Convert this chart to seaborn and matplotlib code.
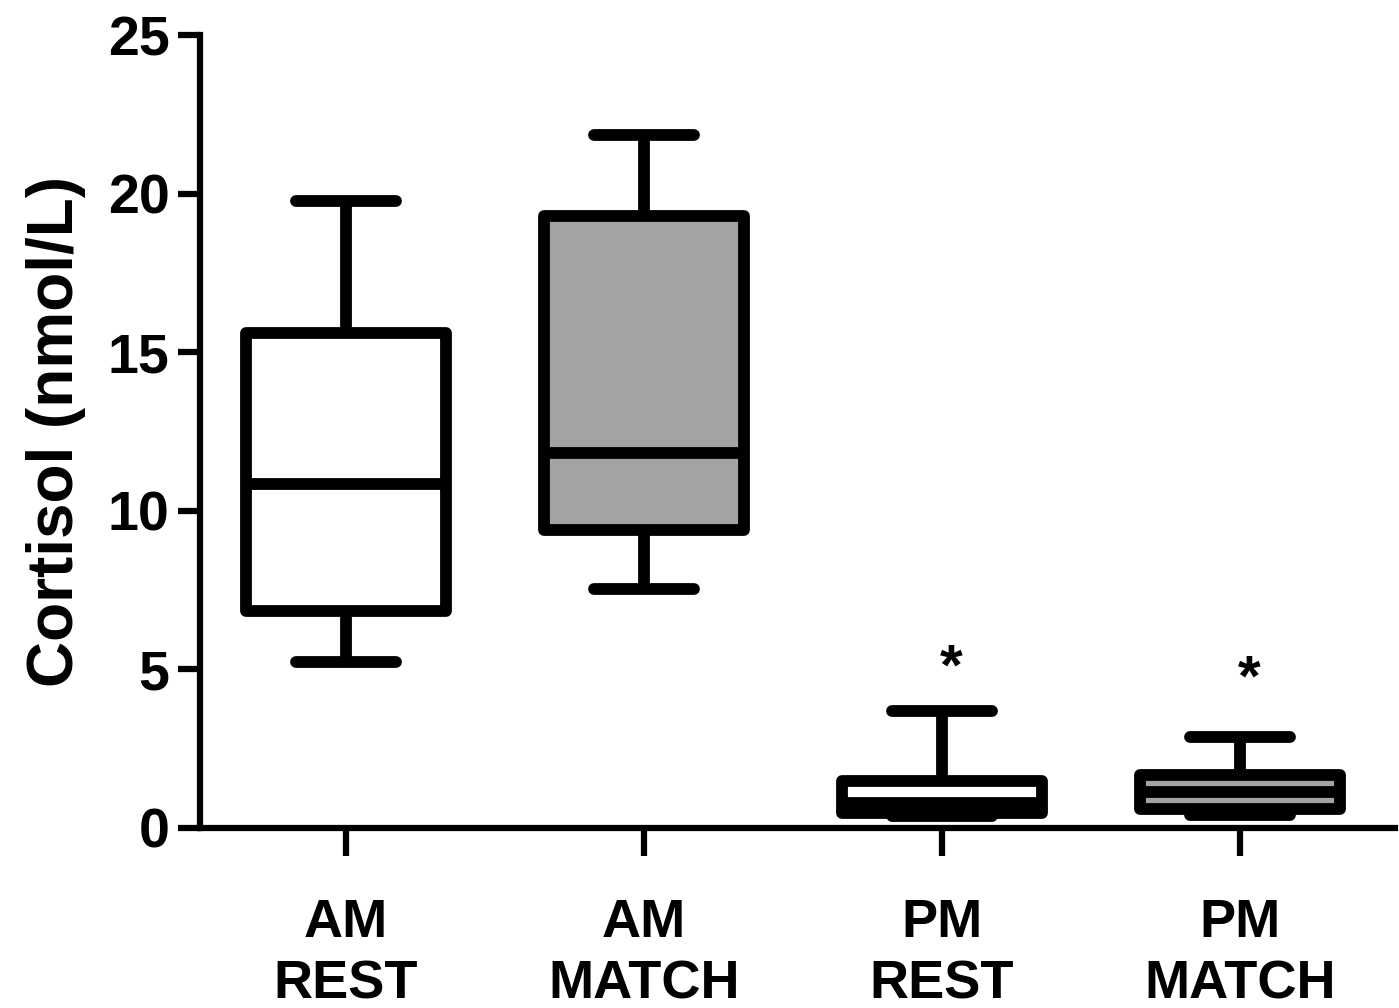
import matplotlib
matplotlib.use("Agg")
import matplotlib.pyplot as plt
import seaborn as sns
import pandas as pd

# five-number summaries (min, Q1, median, Q3, max)
groups = ["AM\nREST", "AM\nMATCH", "PM\nREST", "PM\nMATCH"]
am_rest = [5.23, 6.84, 10.85, 15.6, 19.77]
am_match = [7.53, 9.39, 11.82, 19.29, 21.85]
pm_rest = [0.35, 0.45, 0.77, 1.47, 3.69]
pm_match = [0.4, 0.58, 1.12, 1.65, 2.87]
fills = ["white", "#a3a3a3", "white", "#a3a3a3"]
star_y = [None, None, 5.0, 4.65]
y_ticks = [0, 5, 10, 15, 20, 25]

rows = []
for g, vals in zip(groups, [am_rest, am_match, pm_rest, pm_match]):
    for v in vals:
        rows.append({"group": g, "cortisol": v})
df = pd.DataFrame(rows)

sns.set_style("ticks")
plt.rcParams["font.family"] = ["Liberation Sans", "DejaVu Sans"]
plt.rcParams["font.weight"] = "bold"
plt.rcParams["text.color"] = "black"
plt.rcParams["axes.edgecolor"] = "black"
plt.rcParams["axes.labelcolor"] = "black"
plt.rcParams["xtick.color"] = "black"
plt.rcParams["ytick.color"] = "black"

fig = plt.figure(figsize=(13.99, 10.08), dpi=100)
ax = fig.add_axes([0.143, 0.179, 0.854, 0.786])

lw = 8.5
sns.boxplot(data=df, x="group", y="cortisol", hue="group", palette=fills,
            order=groups, hue_order=groups, legend=False, whis=(0, 100),
            width=0.67, linecolor="black", linewidth=lw, ax=ax,
            boxprops=dict(joinstyle="round"),
            whiskerprops=dict(solid_capstyle="butt"),
            capprops=dict(solid_capstyle="round"),
            medianprops=dict(solid_capstyle="butt"))

# significance marks
for i, s in enumerate(star_y):
    if s is not None:
        ax.text(i + 0.03, s, "*", ha="center", va="center", fontsize=42,
                fontweight="bold")

ax.set_ylim(0, 25)
ax.set_xlim(-0.49, 3.52)
ax.set_yticks(y_ticks)
ax.set_ylabel("Cortisol (nmol/L)", fontsize=46, fontweight="bold", labelpad=16)
ax.set_xlabel("")

for side in ["top", "right"]:
    ax.spines[side].set_visible(False)
for side in ["left", "bottom"]:
    ax.spines[side].set_linewidth(4.5)

ax.tick_params(axis="y", length=16, width=4.5, labelsize=40, pad=6)
ax.tick_params(axis="x", length=20, width=4.5, labelsize=39, pad=31)
for lab in ax.get_xticklabels():
    lab.set_linespacing(1.28)
    lab.set_fontweight("bold")
for lab in ax.get_yticklabels():
    lab.set_fontweight("bold")

fig.savefig("out.png", dpi=100)
